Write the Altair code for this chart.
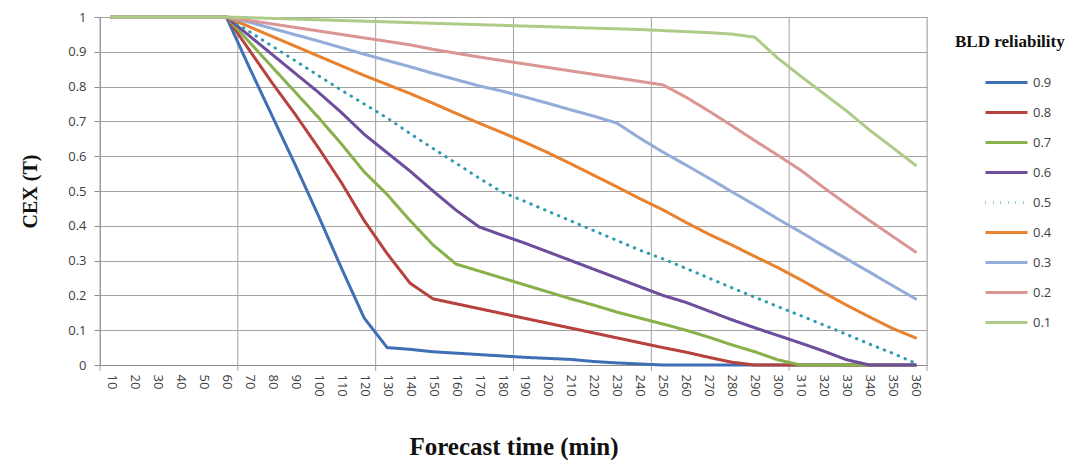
import altair as alt
import pandas as pd

times = list(range(10, 370, 10))
series_names = ["0.9", "0.8", "0.7", "0.6", "0.5", "0.4", "0.3", "0.2", "0.1"]
colors = ["#3f6fb4", "#b7423d", "#88b04b", "#6c4e9c", "#2e9cae", "#e8822e", "#93acd8", "#d99694", "#aecb88"]
dashes = [[1, 0], [1, 0], [1, 0], [1, 0], [0.5, 7], [1, 0], [1, 0], [1, 0], [1, 0]]

s09 = [1, 1, 1, 1, 1, 1, 0.855, 0.715, 0.575, 0.43, 0.28, 0.135,
       0.05, 0.045, 0.038, 0.034, 0.03, 0.026, 0.022, 0.019, 0.016, 0.01, 0.006, 0.003,
       0, 0, 0, 0, 0, 0, 0, 0, 0, 0, 0, 0]
s08 = [1, 1, 1, 1, 1, 1, 0.905, 0.81, 0.72, 0.625, 0.525, 0.415,
       0.32, 0.235, 0.19, 0.176, 0.162, 0.148, 0.134, 0.12, 0.106, 0.092, 0.078, 0.064,
       0.05, 0.037, 0.022, 0.008, 0, 0, 0, 0, 0, 0, 0, 0]
s07 = [1, 1, 1, 1, 1, 1, 0.928, 0.856, 0.784, 0.712, 0.636, 0.555,
       0.49, 0.415, 0.345, 0.29, 0.27, 0.25, 0.23, 0.21, 0.19, 0.172, 0.152, 0.135,
       0.118, 0.1, 0.08, 0.058, 0.038, 0.015, 0, 0, 0, 0, 0, 0]
s06 = [1, 1, 1, 1, 1, 1, 0.946, 0.892, 0.838, 0.784, 0.726, 0.663,
       0.61, 0.557, 0.5, 0.445, 0.397, 0.373, 0.35, 0.325, 0.3, 0.275, 0.25, 0.225,
       0.2, 0.18, 0.155, 0.13, 0.107, 0.085, 0.063, 0.04, 0.015, 0, 0, 0]
s05 = [1, 1, 1, 1, 1, 1, 0.958, 0.916, 0.874, 0.832, 0.79, 0.75,
       0.71, 0.665, 0.622, 0.58, 0.537, 0.497, 0.47, 0.442, 0.414, 0.386, 0.358, 0.33,
       0.305, 0.278, 0.25, 0.222, 0.195, 0.168, 0.142, 0.115, 0.088, 0.06, 0.034, 0.005]
s04 = [1, 1, 1, 1, 1, 1, 0.972, 0.944, 0.916, 0.888, 0.86, 0.832,
       0.806, 0.78, 0.752, 0.723, 0.695, 0.668, 0.64, 0.61, 0.578, 0.545, 0.512, 0.478,
       0.446, 0.41, 0.376, 0.345, 0.312, 0.28, 0.245, 0.208, 0.172, 0.138, 0.105, 0.078]
s03 = [1, 1, 1, 1, 1, 1, 0.985, 0.967, 0.949, 0.931, 0.912, 0.893,
       0.875, 0.857, 0.838, 0.82, 0.802, 0.787, 0.77, 0.752, 0.733, 0.715, 0.695, 0.652,
       0.612, 0.575, 0.537, 0.498, 0.46, 0.42, 0.382, 0.343, 0.305, 0.267, 0.228, 0.19]
s02 = [1, 1, 1, 1, 1, 1, 0.99, 0.98, 0.97, 0.96, 0.95, 0.94,
       0.93, 0.92, 0.907, 0.896, 0.885, 0.875, 0.865, 0.855, 0.845, 0.835, 0.825, 0.815,
       0.805, 0.77, 0.73, 0.688, 0.645, 0.603, 0.56, 0.51, 0.462, 0.415, 0.37, 0.325]
s01 = [1, 1, 1, 1, 1, 1, 0.998, 0.996, 0.994, 0.992, 0.99, 0.988,
       0.986, 0.984, 0.982, 0.98, 0.978, 0.976, 0.974, 0.972, 0.97, 0.968, 0.966, 0.964,
       0.961, 0.958, 0.955, 0.951, 0.942, 0.882, 0.83, 0.78, 0.73, 0.675, 0.625, 0.574]

y_ticks = [0, 0.1, 0.2, 0.3, 0.4, 0.5, 0.6, 0.7, 0.8, 0.9, 1]
grid_times = [5, 65, 125, 185, 245, 305, 365]

all_series = [s09, s08, s07, s06, s05, s04, s03, s02, s01]
rows = []
for name, vals in zip(series_names, all_series):
    for t, v in zip(times, vals):
        rows.append({"time": t, "value": v, "series": name})
df = pd.DataFrame(rows)
grid_df = pd.DataFrame({"time": grid_times})

W, H = 827, 348
xscale = alt.Scale(domain=[5, 365], nice=False, zero=False)
yscale = alt.Scale(domain=[0, 1], nice=False, zero=False)

x_axis = alt.Axis(values=times, labelAngle=90, labelAlign="left", labelBaseline="middle",
                  ticks=False, grid=False, labelPadding=9, labelOverlap=False,
                  labelFont="Open Sans", labelFontSize=13, labelColor="#404040",
                  domainColor="#8c8c8c", title="Forecast time (min)",
                  titleFont="Liberation Serif", titleFontSize=25, titleFontWeight="bold",
                  titleColor="#111111", titlePadding=38)

grid = alt.Chart(grid_df).mark_rule(color="#a3a3a3", strokeWidth=1).encode(
    x=alt.X("time:Q", scale=xscale, axis=x_axis),
    y=alt.value(0),
    y2=alt.value(H + 6),
)

lines = alt.Chart(df).mark_line(strokeWidth=3, strokeCap="round", strokeJoin="round").encode(
    x=alt.X("time:Q", scale=xscale, axis=x_axis),
    y=alt.Y("value:Q", scale=yscale,
            axis=alt.Axis(values=y_ticks, format="~g", grid=True, gridColor="#a3a3a3",
                          tickSize=6, tickColor="#8c8c8c", domainColor="#8c8c8c",
                          labelFont="Open Sans", labelFontSize=13, labelColor="#404040",
                          labelPadding=8, title="CEX (T)", titleFont="Liberation Serif",
                          titleFontSize=20, titleFontWeight="bold", titleColor="#111111",
                          titlePadding=27)),
    color=alt.Color("series:N", sort=series_names,
                    scale=alt.Scale(domain=series_names, range=colors),
                    legend=alt.Legend(title="BLD reliability", orient="none", legendX=855, legendY=17,
                                      symbolType="stroke", symbolSize=1764, symbolStrokeWidth=3,
                                      symbolOffset=29, labelFont="Open Sans", labelFontSize=13,
                                      labelColor="#404040", labelOffset=4,
                                      titleFont="Liberation Serif", titleFontSize=17,
                                      titleFontWeight="bold", titleColor="#111111",
                                      titlePadding=9, rowPadding=0)),
    strokeDash=alt.StrokeDash("series:N", sort=series_names,
                              scale=alt.Scale(domain=series_names, range=dashes)),
    order=alt.Order("time:Q"),
)

chart = alt.layer(grid, lines).properties(
    width=W, height=H,
    autosize=alt.AutoSizeParams(type="none"),
    padding={"left": 92, "top": 9, "right": 145, "bottom": 95},
).configure_view(stroke=None).configure(background="white")

chart.save("out.html", embed_options={"renderer": "svg", "actions": False})
